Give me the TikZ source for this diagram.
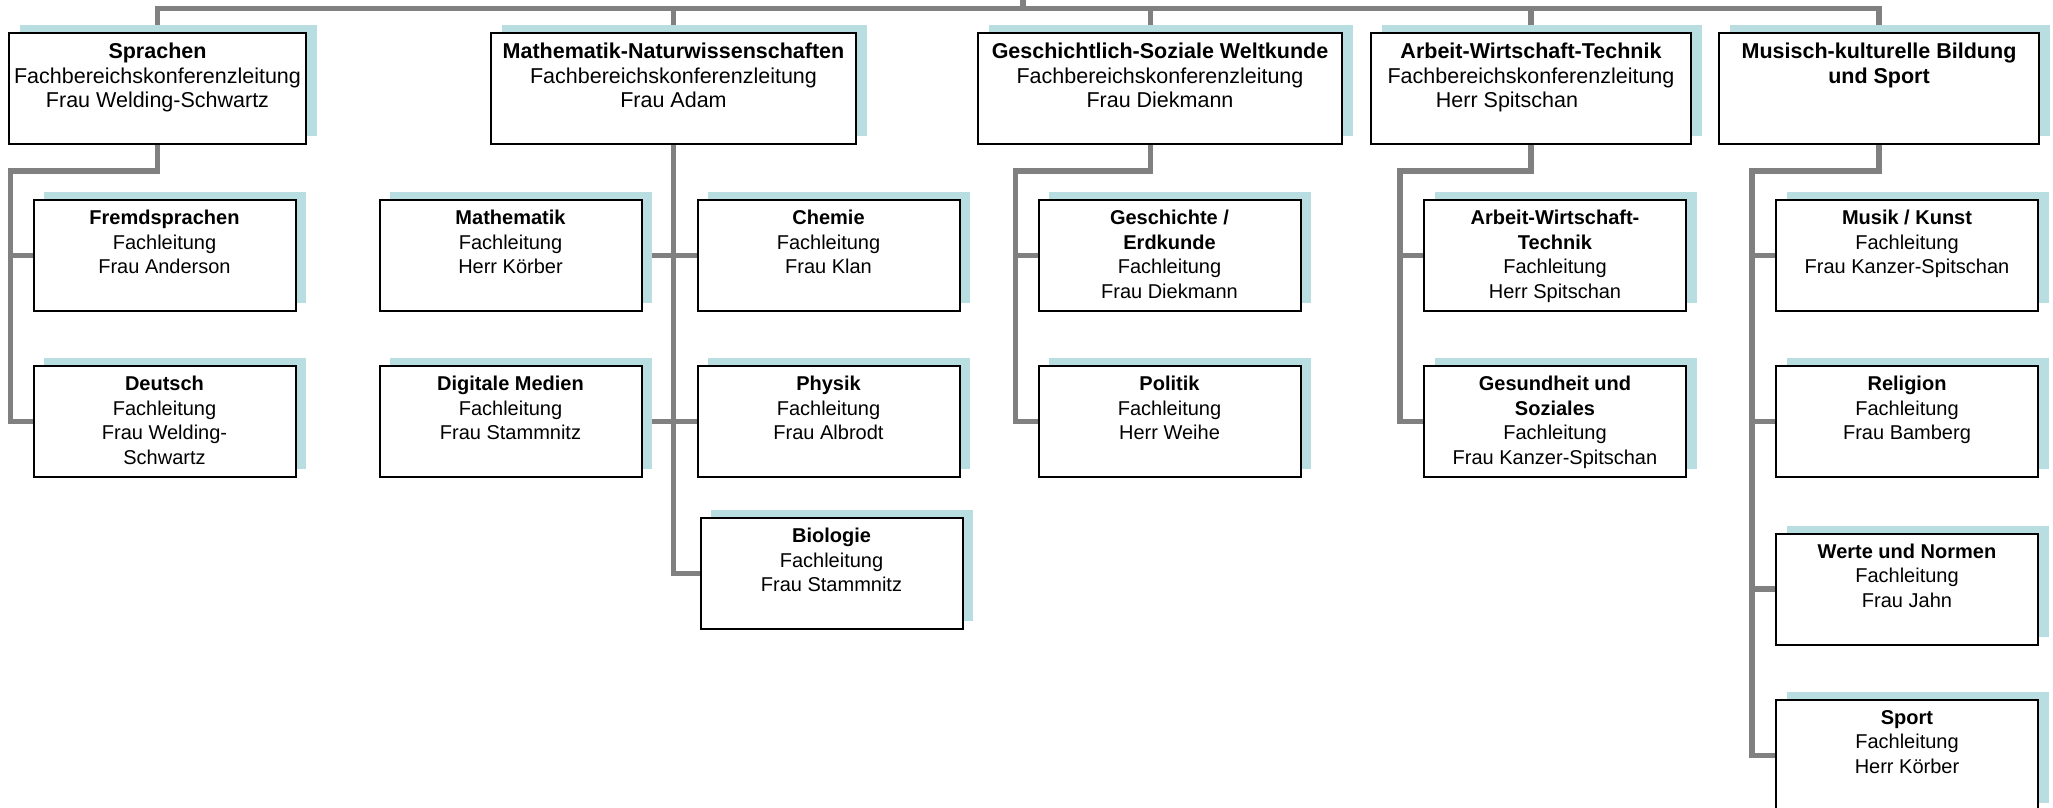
\documentclass[tikz,border=0pt]{standalone}
\usepackage{fontspec}
\setmainfont{Liberation Sans}
\usetikzlibrary{shadows,backgrounds}
\definecolor{conngray}{RGB}{128,128,128}
\definecolor{shadecyan}{RGB}{184,222,226}

\begin{document}
\begin{tikzpicture}[x=0.5pt,y=-0.5pt]
    \tikzstyle{every node}+=[inner sep=0pt]
    \tikzstyle{unit}=[draw=black, line width=1pt, fill=white, anchor=north, minimum height=55.5pt, general shadow={fill=shadecyan, shadow xshift=5.25pt, shadow yshift=4pt}]
    \tikzstyle{sub}=[unit, minimum width=131pt]
    \tikzstyle{boxtext}=[anchor=north, align=center, yshift=-5.5pt, font=\fontsize{10}{12.2}\selectfont, execute at begin node=\strut]
    \tikzstyle{headtext}=[boxtext, font=\fontsize{10.75}{12.2}\selectfont]
    \tikzstyle{conn}=[draw=conngray, line width=2.8pt]
    \useasboundingbox (0,0) rectangle (2053,808);
    \coordinate (root) at (1023,-3);
    \coordinate (bar) at (1023,8.5);
    \coordinate (spr-spine) at (10.5,171);
    \coordinate (gsw-spine) at (1015.5,171);
    \coordinate (awt-spine) at (1400,171);
    \coordinate (mkb-spine) at (1752,171);
    \node [unit, minimum width=148.5pt] (spr) at (157.5,32) {};
    \node [headtext] (spr-t) at (spr.north) {\textbf{Sprachen}\\Fachbereichskonferenzleitung\\Frau Welding-Schwartz};
    \node [unit, minimum width=182.5pt] (mnw) at (673.5,32) {};
    \node [headtext] (mnw-t) at (mnw.north) {\textbf{Mathematik-Naturwissenschaften}\\Fachbereichskonferenzleitung\\Frau Adam};
    \node [unit, minimum width=182pt] (gsw) at (1160,32) {};
    \node [headtext] (gsw-t) at (gsw.north) {\textbf{Geschichtlich-Soziale Weltkunde}\\Fachbereichskonferenzleitung\\Frau Diekmann};
    \node [unit, minimum width=160pt] (awt) at (1531,32) {};
    \node [headtext] (awt-t) at (awt.north) {\textbf{Arbeit-Wirtschaft-Technik}\\Fachbereichskonferenzleitung\\Herr Spitschan\rule{24pt}{0pt}};
    \node [unit, minimum width=160pt] (mkb) at (1879,32) {};
    \node [headtext] (mkb-t) at (mkb.north) {\textbf{Musisch-kulturelle Bildung}\\\textbf{und Sport}};
    \node [sub] (frs) at (164.5,199) {};
    \node [boxtext] (frs-t) at (frs.north) {\textbf{Fremdsprachen}\\Fachleitung\\Frau Anderson};
    \node [sub] (deu) at (164.5,365) {};
    \node [boxtext] (deu-t) at (deu.north) {\textbf{Deutsch}\\Fachleitung\\Frau Welding-\\Schwartz};
    \node [sub] (mat) at (510.5,199) {};
    \node [boxtext] (mat-t) at (mat.north) {\textbf{Mathematik}\\Fachleitung\\Herr Körber};
    \node [sub] (dig) at (510.5,365) {};
    \node [boxtext] (dig-t) at (dig.north) {\textbf{Digitale Medien}\\Fachleitung\\Frau Stammnitz};
    \node [sub] (che) at (828.5,199) {};
    \node [boxtext] (che-t) at (che.north) {\textbf{Chemie}\\Fachleitung\\Frau Klan};
    \node [sub] (phy) at (828.5,365) {};
    \node [boxtext] (phy-t) at (phy.north) {\textbf{Physik}\\Fachleitung\\Frau Albrodt};
    \node [sub] (bio) at (831.5,517) {};
    \node [boxtext] (bio-t) at (bio.north) {\textbf{Biologie}\\Fachleitung\\Frau Stammnitz};
    \node [sub] (ges) at (1169.5,199) {};
    \node [boxtext] (ges-t) at (ges.north) {\textbf{Geschichte /}\\\textbf{Erdkunde}\\Fachleitung\\Frau Diekmann};
    \node [sub] (pol) at (1169.5,365) {};
    \node [boxtext] (pol-t) at (pol.north) {\textbf{Politik}\\Fachleitung\\Herr Weihe};
    \node [sub] (awf) at (1555,199) {};
    \node [boxtext] (awf-t) at (awf.north) {\textbf{Arbeit-Wirtschaft-}\\\textbf{Technik}\\Fachleitung\\Herr Spitschan};
    \node [sub] (gsd) at (1555,365) {};
    \node [boxtext] (gsd-t) at (gsd.north) {\textbf{Gesundheit und}\\\textbf{Soziales}\\Fachleitung\\Frau Kanzer-Spitschan};
    \node [sub] (mus) at (1907,199) {};
    \node [boxtext] (mus-t) at (mus.north) {\textbf{Musik / Kunst}\\Fachleitung\\Frau Kanzer-Spitschan};
    \node [sub] (rel) at (1907,365) {};
    \node [boxtext] (rel-t) at (rel.north) {\textbf{Religion}\\Fachleitung\\Frau Bamberg};
    \node [sub] (wer) at (1907,532.5) {};
    \node [boxtext] (wer-t) at (wer.north) {\textbf{Werte und Normen}\\Fachleitung\\Frau Jahn};
    \node [sub] (spo) at (1907,699) {};
    \node [boxtext] (spo-t) at (spo.north) {\textbf{Sport}\\Fachleitung\\Herr Körber};
    \begin{scope}[on background layer]
    \draw [conn] (root) -- (bar);
    \draw [conn] (spr.north) |- (bar) -| (mkb.north);
    \draw [conn] (mnw.north) |- (bar);
    \draw [conn] ([xshift=-4.75pt]gsw.north) |- (bar);
    \draw [conn] (awt.north) |- (bar);
    \draw [conn] (spr.south) |- (spr-spine) |- (deu.west);
    \draw [conn] (frs.west) -- (frs.west -| spr-spine);
    \draw [conn] (mnw.south) |- (bio.west);
    \draw [conn] (mat.east) -- (che.west);
    \draw [conn] (dig.east) -- (phy.west);
    \draw [conn] ([xshift=-4.75pt]gsw.south) |- (gsw-spine) |- (pol.west);
    \draw [conn] (ges.west) -- (ges.west -| gsw-spine);
    \draw [conn] (awt.south) |- (awt-spine) |- (gsd.west);
    \draw [conn] (awf.west) -- (awf.west -| awt-spine);
    \draw [conn] (mkb.south) |- (mkb-spine) |- (spo.west);
    \draw [conn] (mus.west) -- (mus.west -| mkb-spine);
    \draw [conn] (rel.west) -- (rel.west -| mkb-spine);
    \draw [conn] (wer.west) -- (wer.west -| mkb-spine);
    \end{scope}
\end{tikzpicture}
\end{document}
